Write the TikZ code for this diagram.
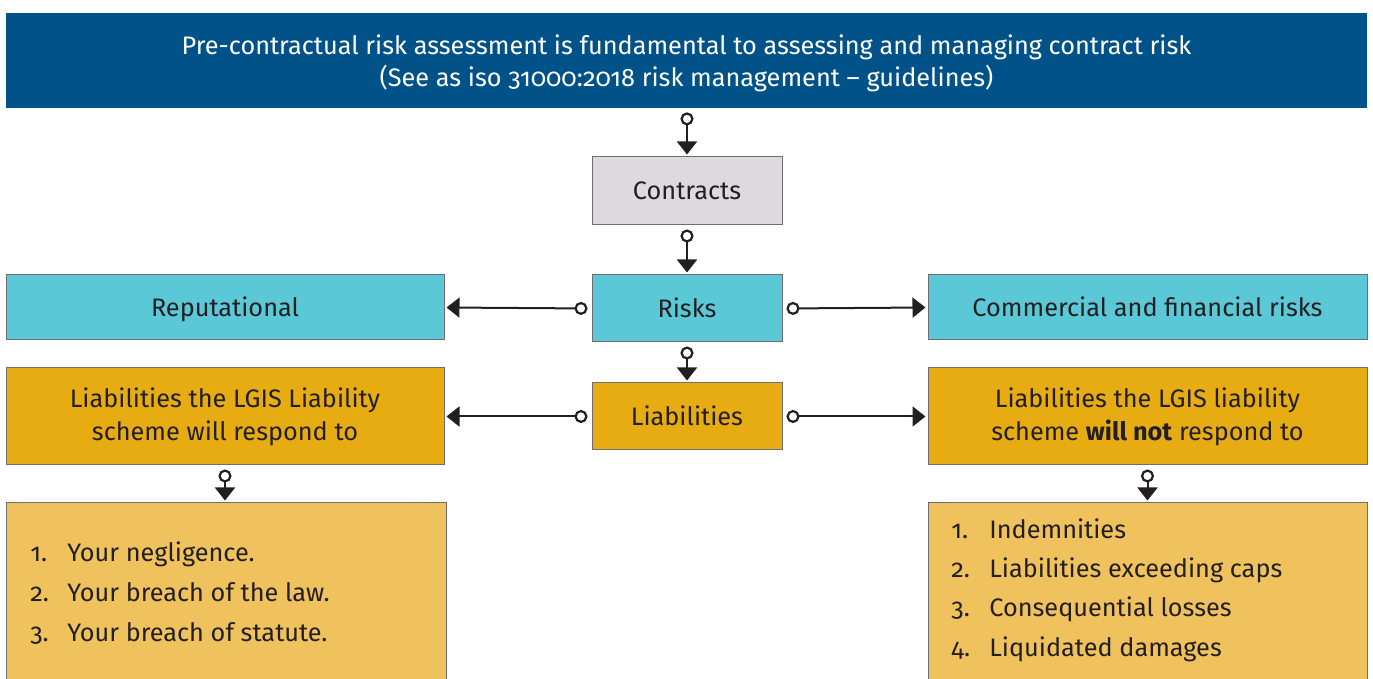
\documentclass[tikz,border=0pt]{standalone}
\usepackage{fontspec}
\setmainfont{Fira Sans}[Numbers=OldStyle]
\usetikzlibrary{arrows.meta}

\definecolor{bannerblue}{HTML}{005288}
\definecolor{contractgray}{HTML}{DCDADF}
\definecolor{riskcyan}{HTML}{5BC8D8}
\definecolor{liabgold}{HTML}{E6AC12}
\definecolor{listgold}{HTML}{F0C25E}
\definecolor{inkdark}{HTML}{231F20}
\definecolor{edgegray}{HTML}{6D6E71}

\tikzset{
  box/.style={draw=edgegray, line width=0.5pt, rectangle, inner sep=0pt,
    align=center, text=inkdark, font=\fontsize{12.65}{16.5}\selectfont},
  oneline/.style={text height=10.4pt, text depth=1.4pt},
  graybox/.style={box, fill=contractgray},
  cyanbox/.style={box, fill=riskcyan},
  goldbox/.style={box, fill=liabgold},
  listbox/.style={box, fill=listgold},
  listtext/.style={align=left, text=inkdark, inner sep=0pt, anchor=west},
  flow/.style={draw=inkdark, line width=1pt,
    arrows={Circle[open, length=6.5pt, width=6.5pt, fill=white, line width=1.1pt]-Triangle[width=10pt, length=6.5pt]},
    shorten <=2pt, shorten >=1pt}
}

\newcommand{\numitem}[2]{\makebox[#1][l]{#2}}

\begin{document}
\begin{tikzpicture}[x=0.5pt, y=-0.5pt]
  \useasboundingbox (0,0) rectangle (1373,679);

  % heading banner
  \node[draw=none, fill=bannerblue, minimum width=680.5pt, minimum height=47.5pt,
        inner sep=0pt] (banner) at (686.5,60.5) {};
  \node[text=white, inner sep=0pt, align=center, font=\fontsize{12.65}{16}\selectfont]
    (bannertext) at (686.5,63)
    {Pre-contractual risk assessment is fundamental to assessing and managing contract risk\\
     (See as iso 31000:2018 risk management -- guidelines)};

  % central column
  \node[graybox, oneline, minimum width=95pt, minimum height=34pt] (contracts) at (687,191) {Contracts};
  \node[cyanbox, oneline, minimum width=95pt, minimum height=33.5pt] (risks) at (687,308.5) {Risks};
  \node[goldbox, oneline, minimum width=95pt, minimum height=33.5pt] (liab) at (687,416.5) {Liabilities};

  % risk categories
  \node[cyanbox, oneline, minimum width=219pt, minimum height=32.5pt] (rep) at (225,307.5) {Reputational};
  \node[cyanbox, oneline, minimum width=219.5pt, minimum height=32.5pt] (comm) at (1147.5,307.5) {Commercial and financial risks};

  % liability categories
  \node[goldbox, minimum width=219pt, minimum height=48.5pt] (lyes) at (225,416.5)
    {Liabilities the LGIS Liability\\ scheme will respond to};
  \node[goldbox, minimum width=219.5pt, minimum height=48.5pt] (lno) at (1147.5,416.5)
    {Liabilities the LGIS liability\\ scheme \textbf{will not} respond to};

  % detail lists
  \node[listbox, minimum width=220pt, minimum height=93.5pt] (yeslist) at (226,596.5) {};
  \node[listbox, minimum width=219.5pt, minimum height=93.5pt] (nolist) at (1147.5,596.5) {};

  \node[listtext, font=\fontsize{12.65}{20}\selectfont] (yesitems) at (30,593)
    {\numitem{18.5pt}{1.}Your negligence.\\
     \numitem{18.5pt}{2.}Your breach of the law.\\
     \numitem{18.5pt}{3.}Your breach of statute.};
  \node[listtext, font=\fontsize{12.65}{19.7}\selectfont] (noitems) at (951,590)
    {\numitem{19pt}{1.}Indemnities\\
     \numitem{19pt}{2.}Liabilities exceeding caps\\
     \numitem{19pt}{3.}Consequential losses\\
     \numitem{19pt}{4.}Liquidated damages};

  % connectors
  \draw[flow] (banner.south -| contracts.north) -- (contracts.north);
  \draw[flow] (contracts.south) -- (risks.north);
  \draw[flow] (risks.south) -- (liab.north);
  \draw[flow] (risks.west) -- (rep.east);
  \draw[flow] (risks.east) -- (comm.west);
  \draw[flow] (liab.west) -- (lyes.east);
  \draw[flow] (liab.east) -- (lno.west);
  \draw[flow] (lyes.south) -- (lyes.south |- yeslist.north);
  \draw[flow] (lno.south) -- (lno.south |- nolist.north);
\end{tikzpicture}
\end{document}
